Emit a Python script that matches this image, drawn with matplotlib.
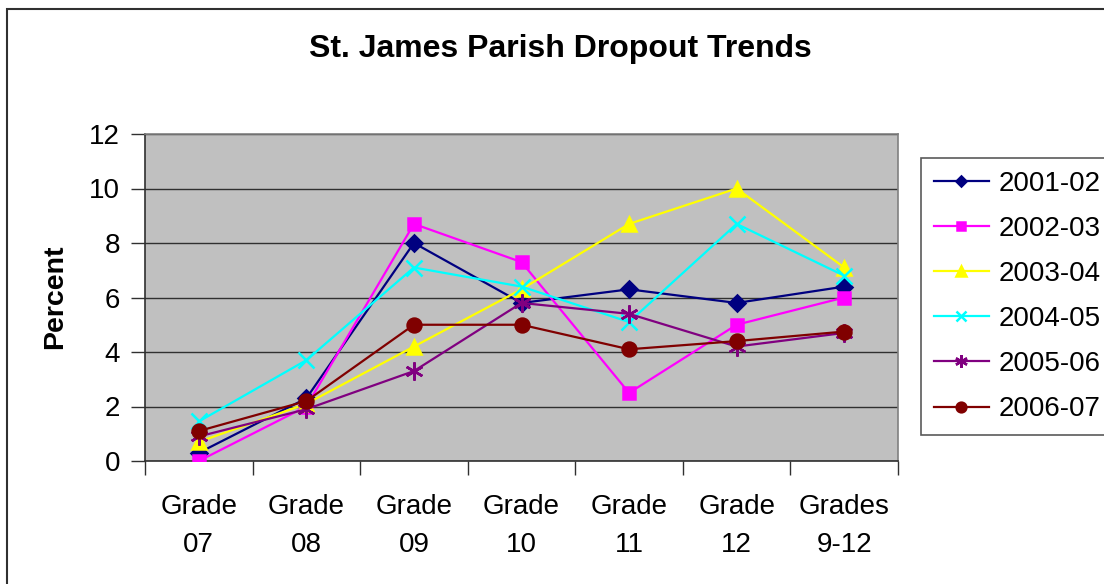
import numpy as np
import matplotlib
matplotlib.use('Agg')
import matplotlib.pyplot as plt
from matplotlib.patches import Rectangle

# data
grades = ['Grade\n07', 'Grade\n08', 'Grade\n09', 'Grade\n10', 'Grade\n11', 'Grade\n12', 'Grades\n9-12']
years = ['2001-02', '2002-03', '2003-04', '2004-05', '2005-06', '2006-07']
y2001 = [0.3, 2.3, 8.0, 5.8, 6.3, 5.8, 6.4]
y2002 = [0.0, 2.0, 8.7, 7.3, 2.5, 5.0, 6.0]
y2003 = [0.7, 2.1, 4.2, 6.3, 8.7, 10.0, 7.1]
y2004 = [1.45, 3.7, 7.1, 6.4, 5.1, 8.7, 6.8]
y2005 = [0.9, 1.9, 3.3, 5.8, 5.4, 4.2, 4.7]
y2006 = [1.1, 2.2, 5.0, 5.0, 4.1, 4.4, 4.75]

series = [y2001, y2002, y2003, y2004, y2005, y2006]
colors = ['#000080', '#FF00FF', '#FFFF00', '#00FFFF', '#800080', '#800000']
markers = ['D', 's', '^', 'x', (6, 2, 0), 'o']
msizes = [8, 8, 10, 11, 13, 10]

plt.rcParams['font.family'] = ['Liberation Sans', 'DejaVu Sans']

W, H = 1104, 584
fig = plt.figure(figsize=(W / 100, H / 100), dpi=100)
ax = fig.add_axes([145 / W, 1 - 461 / H, (898 - 145) / W, (461 - 134) / H])
ax.set_facecolor('#C0C0C0')

x = np.arange(len(grades))
for vals, c, m, ms, lab in zip(series, colors, markers, msizes, years):
    ax.plot(x, vals, color=c, lw=1.6, marker=m, markersize=ms,
            markerfacecolor=c, markeredgecolor=c, markeredgewidth=1.8,
            label=lab, zorder=3)

ax.set_xlim(-0.5, len(grades) - 0.5)
ax.set_ylim(0, 12)
ax.set_yticks(np.arange(0, 13, 2))
ax.yaxis.grid(True, color='#303030', lw=1.0)
ax.set_axisbelow(True)

ax.set_xticks(x)
ax.set_xticklabels(grades, fontsize=20, linespacing=1.6)
ax.set_xticks(np.arange(-0.5, len(grades), 1), minor=True)
ax.tick_params(axis='x', which='major', length=0, pad=24)
ax.tick_params(axis='x', which='minor', length=10, width=1, color='#303030', direction='out')
ax.tick_params(axis='y', length=10, width=1, color='#303030', labelsize=20, pad=8)

for s in ['left', 'bottom']:
    ax.spines[s].set_color('#303030')
    ax.spines[s].set_linewidth(1.2)
for s in ['top', 'right']:
    ax.spines[s].set_color('#808080')
    ax.spines[s].set_linewidth(1.2)

fig.text(560 / W, 1 - 49 / H, 'St. James Parish Dropout Trends',
         ha='center', va='center', fontsize=23, fontweight='bold')
fig.text(55 / W, 1 - 297 / H, 'Percent', rotation=90,
         ha='center', va='center', fontsize=20.5, fontweight='bold')

leg = ax.legend(loc='upper left', bbox_to_anchor=(921 / W, 1 - 158 / H),
                bbox_transform=fig.transFigure, borderaxespad=0,
                fontsize=20, frameon=True, fancybox=False, markerscale=0.7,
                handlelength=2.0, handletextpad=0.35, labelspacing=0.69,
                borderpad=0.45)
leg.get_frame().set_edgecolor('#303030')
leg.get_frame().set_linewidth(1.2)

# outer chart border (right and bottom edges fall off the image)
fig.patches.append(Rectangle((7 / W, -0.1), 1.2, 1.1 - 9 / H, transform=fig.transFigure,
                             fill=False, edgecolor='#303030', lw=1.5))

fig.savefig('out.png', dpi=100)
